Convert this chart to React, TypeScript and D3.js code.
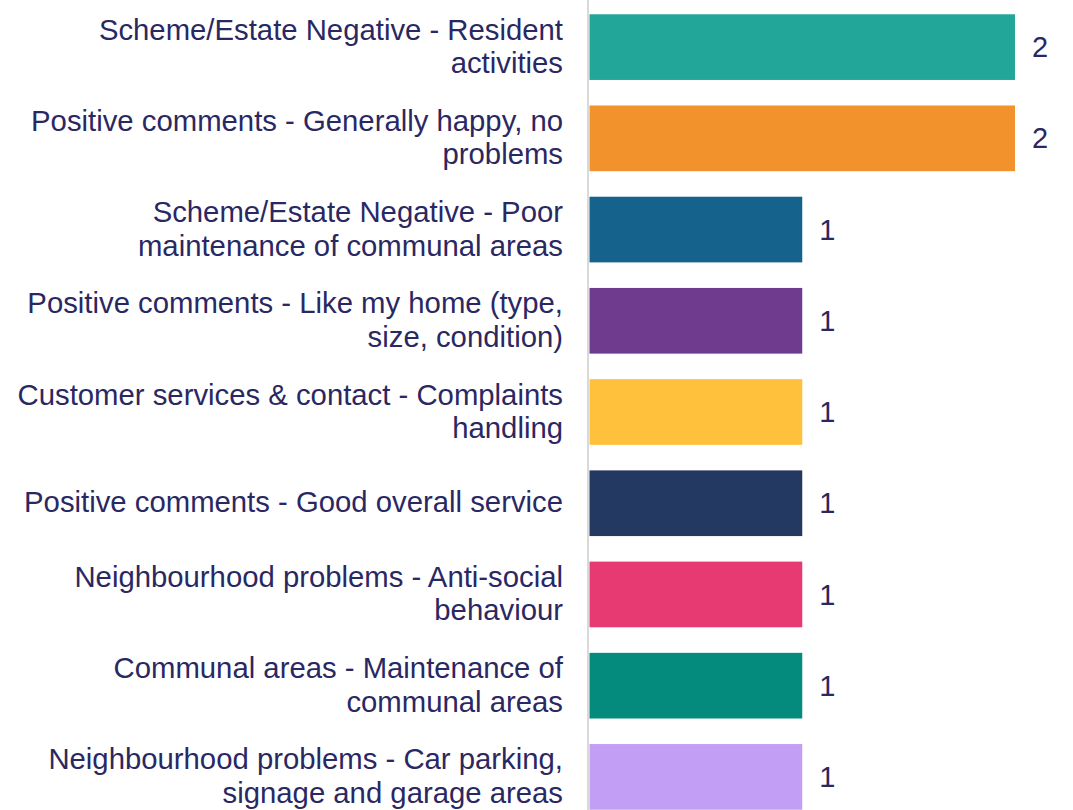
import React from "react";
import * as d3 from "d3";

const categories: string[][] = [
  ["Scheme/Estate Negative - Resident", "activities"],
  ["Positive comments - Generally happy, no", "problems"],
  ["Scheme/Estate Negative - Poor", "maintenance of communal areas"],
  ["Positive comments - Like my home (type,", "size, condition)"],
  ["Customer services & contact - Complaints", "handling"],
  ["Positive comments - Good overall service"],
  ["Neighbourhood problems - Anti-social", "behaviour"],
  ["Communal areas - Maintenance of", "communal areas"],
  ["Neighbourhood problems - Car parking,", "signage and garage areas"],
];
const values: number[] = [2, 2, 1, 1, 1, 1, 1, 1, 1];
const colors: string[] = [
  "#22A699", "#F2922C", "#15638C", "#6F3B8E", "#FFC13B",
  "#233962", "#E83A72", "#048B7E", "#C39EF5",
];

const W = 1073;
const H = 810;
const TEXT = "#2A2862";

export default function App() {
  const x = d3.scaleLinear().domain([0, 2]).range([589.5, 1015]);
  const y = d3
    .scaleBand<number>()
    .domain(d3.range(categories.length))
    .range([1.5, 822.5])
    .paddingInner(0.28)
    .paddingOuter(0.14);
  const bh = y.bandwidth();
  return (
    <svg
      width={W}
      height={H}
      style={{ position: "absolute", left: 0, top: 0, background: "#fff" }}
      fontFamily="'Liberation Sans', Arial, sans-serif"
    >
      {values.map((v, i) => {
        const y0 = y(i)!;
        const cy = y0 + bh / 2;
        const lines = categories[i];
        const lh = 33.5;
        return (
          <g key={i}>
            <rect x={x(0)} y={y0} width={x(v) - x(0)} height={bh} fill={colors[i]} />
            <text
              x={x(v) + 17}
              y={cy}
              dy="0.35em"
              fontSize={29}
              fill={TEXT}
            >
              {v}
            </text>
            {lines.map((l, j) => (
              <text
                key={j}
                x={563}
                y={cy - 1 + (j - (lines.length - 1) / 2) * lh}
                dy="0.35em"
                textAnchor="end"
                fontSize={29.3}
                fill={TEXT}
              >
                {l}
              </text>
            ))}
          </g>
        );
      })}
      <line x1={588} x2={588} y1={0} y2={H} stroke="#D9D9D9" strokeWidth={2} />
    </svg>
  );
}
